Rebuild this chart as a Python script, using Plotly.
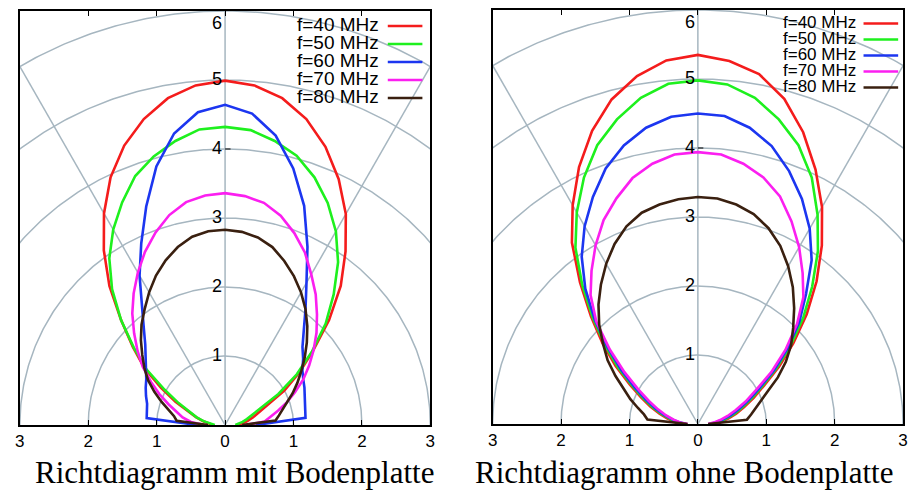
import numpy as np
import plotly.graph_objects as go

# Angle of each sample, measured from the positive x axis (degrees)
theta_deg = list(range(0, 181, 5))

freq_labels = ["f=40 MHz", "f=50 MHz", "f=60 MHz", "f=70 MHz", "f=80 MHz"]
line_colors = ["#f41c1c", "#1ef01e", "#1c36f0", "#fb1ff0", "#3a2010"]

# Richtdiagramm mit Bodenplatte (radius per angle)
r_mit_40 = [0.20, 0.26, 0.33, 0.42, 0.52, 0.68, 1.00, 1.33, 1.68, 2.15, 2.63, 3.07, 3.53,
            3.93, 4.29, 4.59, 4.81, 4.94, 4.99, 4.94, 4.81, 4.59, 4.31, 3.96, 3.54, 3.09,
            2.63, 2.15, 1.76, 1.44, 1.08, 0.80, 0.58, 0.44, 0.33, 0.25, 0.18]
r_mit_50 = [0.15, 0.20, 0.26, 0.33, 0.42, 0.57, 0.90, 1.28, 1.66, 2.08, 2.47, 2.88, 3.24,
            3.55, 3.82, 4.04, 4.18, 4.29, 4.32, 4.30, 4.18, 4.03, 3.84, 3.56, 3.27, 2.95,
            2.57, 2.15, 1.74, 1.40, 1.02, 0.75, 0.56, 0.43, 0.32, 0.22, 0.15]
r_mit_60 = [0.45, 1.18, 1.19, 1.21, 1.24, 1.28, 1.32, 1.38, 1.49, 1.60, 1.79, 2.05, 2.38,
            2.85, 3.38, 3.85, 4.26, 4.53, 4.64, 4.55, 4.29, 3.88, 3.37, 2.90, 2.50, 2.13,
            1.85, 1.65, 1.51, 1.41, 1.33, 1.28, 1.23, 1.18, 1.16, 1.15, 0.41]
r_mit_70 = [0.30, 0.58, 0.67, 0.80, 0.96, 1.13, 1.32, 1.50, 1.69, 1.89, 2.09, 2.31, 2.52,
            2.76, 2.96, 3.14, 3.27, 3.33, 3.36, 3.34, 3.28, 3.15, 2.97, 2.77, 2.55, 2.33,
            2.11, 1.88, 1.67, 1.47, 1.25, 1.06, 0.88, 0.74, 0.63, 0.50, 0.30]
r_mit_80 = [0.25, 0.74, 0.80, 0.87, 0.97, 1.09, 1.22, 1.36, 1.52, 1.69, 1.87, 2.05, 2.22,
            2.38, 2.53, 2.67, 2.76, 2.81, 2.83, 2.82, 2.77, 2.67, 2.54, 2.39, 2.22, 2.05,
            1.90, 1.74, 1.58, 1.44, 1.30, 1.14, 0.99, 0.86, 0.76, 0.71, 0.25]

# Richtdiagramm ohne Bodenplatte (radius per angle)
r_ohne_40 = [0.20, 0.33, 0.45, 0.58, 0.72, 0.90, 1.12, 1.45, 1.82, 2.25, 2.70, 3.16, 3.63,
             4.07, 4.50, 4.88, 5.15, 5.28, 5.35, 5.29, 5.12, 4.87, 4.52, 4.11, 3.66, 3.21,
             2.68, 2.21, 1.82, 1.47, 1.15, 0.92, 0.74, 0.58, 0.45, 0.33, 0.20]
r_ohne_50 = [0.18, 0.29, 0.41, 0.54, 0.68, 0.86, 1.08, 1.40, 1.77, 2.18, 2.60, 3.06, 3.50,
             3.94, 4.30, 4.57, 4.80, 4.94, 4.98, 4.95, 4.80, 4.57, 4.30, 3.94, 3.54, 3.12,
             2.63, 2.17, 1.77, 1.42, 1.11, 0.88, 0.70, 0.54, 0.41, 0.30, 0.18]
r_ohne_60 = [0.17, 0.26, 0.37, 0.50, 0.64, 0.82, 1.04, 1.36, 1.72, 2.10, 2.46, 2.90, 3.27,
             3.60, 3.90, 4.17, 4.36, 4.48, 4.50, 4.47, 4.36, 4.18, 3.94, 3.63, 3.31, 2.96,
             2.56, 2.13, 1.72, 1.37, 1.07, 0.84, 0.66, 0.51, 0.38, 0.27, 0.17]
r_ohne_70 = [0.15, 0.23, 0.33, 0.45, 0.59, 0.77, 0.98, 1.31, 1.67, 2.05, 2.40, 2.67, 2.96,
             3.24, 3.51, 3.70, 3.83, 3.92, 3.94, 3.92, 3.83, 3.69, 3.48, 3.26, 2.99, 2.71,
             2.44, 2.10, 1.68, 1.31, 1.01, 0.79, 0.62, 0.48, 0.36, 0.26, 0.15]
r_ohne_80 = [0.15, 0.72, 0.79, 0.87, 0.97, 1.13, 1.35, 1.57, 1.78, 1.97, 2.19, 2.42, 2.64,
             2.85, 3.02, 3.15, 3.23, 3.28, 3.29, 3.27, 3.23, 3.17, 3.05, 2.88, 2.68, 2.47,
             2.26, 2.04, 1.81, 1.61, 1.39, 1.20, 1.05, 0.91, 0.80, 0.74, 0.15]

panel_titles = ["Richtdiagramm mit Bodenplatte", "Richtdiagramm ohne Bodenplatte"]
x_ticks = [-3, -2, -1, 0, 1, 2, 3]
x_tick_text = ["3", "2", "1", "0", "1", "2", "3"]
ring_radii = [1, 2, 3, 4, 5, 6]
spoke_angles = [60, 90, 120]

panels = [
    [r_mit_40, r_mit_50, r_mit_60, r_mit_70, r_mit_80],
    [r_ohne_40, r_ohne_50, r_ohne_60, r_ohne_70, r_ohne_80],
]

W, H = 917, 490
GRID = "#a6b6c0"
# pixel boxes of the two plot frames: (left, right, top, bottom)
frames = [(15, 430, 11, 425), (493, 908, 10, 424)]
# legend geometry per panel: text right edge, sample start/end, first row y, row step, font
legend_geo = [(380, 387, 422, 25, 18, 19), (862, 868, 903, 22.5, 16, 17)]
title_cx = [232, 686]


def px(v):
    return v / W


def py(v):
    return 1 - v / H


fig = go.Figure()
t_fine = np.radians(np.linspace(0, 180, 361))
th = np.radians(np.array(theta_deg))

for i, series in enumerate(panels):
    xa = "x" if i == 0 else "x2"
    ya = "y" if i == 0 else "y2"
    # polar grid: rings and spokes
    for r in ring_radii:
        fig.add_trace(go.Scatter(x=r * np.cos(t_fine), y=r * np.sin(t_fine), mode="lines",
                                 line=dict(color=GRID, width=1.5), xaxis=xa, yaxis=ya,
                                 hoverinfo="skip", showlegend=False))
    for a in spoke_angles:
        ar = np.radians(a)
        fig.add_trace(go.Scatter(x=[0, 8 * np.cos(ar)], y=[0, 8 * np.sin(ar)], mode="lines",
                                 line=dict(color=GRID, width=1.5), xaxis=xa, yaxis=ya,
                                 hoverinfo="skip", showlegend=False))
    # radiation patterns
    for r_vals, lab, col in zip(series, freq_labels, line_colors):
        r_arr = np.array(r_vals)
        fig.add_trace(go.Scatter(x=r_arr * np.cos(th), y=r_arr * np.sin(th), mode="lines",
                                 line=dict(color=col, width=2.6), name=lab,
                                 xaxis=xa, yaxis=ya, showlegend=False))
    # ring labels along the vertical axis
    for r in ring_radii:
        top = r == ring_radii[-1]
        fig.add_annotation(x=0, y=r, xref=xa, yref=ya, text=str(r), showarrow=False,
                           xanchor="right", yanchor="top" if top else "middle",
                           xshift=-1, yshift=0 if top else 1,
                           font=dict(family="Liberation Sans, Arial", size=18, color="black"))
    fig.add_shape(type="line", x0=0, x1=0.08, y0=4, y1=4, xref=xa, yref=ya,
                  line=dict(color="black", width=1.2))
    # legend: text on the left, line sample on the right
    tx, lx0, lx1, y0, dy, fs = legend_geo[i]
    for k, (lab, col) in enumerate(zip(freq_labels, line_colors)):
        yy = y0 + k * dy
        fig.add_annotation(x=px(tx), y=py(yy), xref="paper", yref="paper", text=lab,
                           showarrow=False, xanchor="right", yanchor="middle",
                           font=dict(family="Liberation Sans, Arial", size=fs, color="black"))
        fig.add_shape(type="line", x0=px(lx0), x1=px(lx1), y0=py(yy + 1), y1=py(yy + 1),
                      xref="paper", yref="paper", line=dict(color=col, width=2.6))
    # panel caption
    fig.add_annotation(x=px(title_cx[i]), y=py(472), xref="paper", yref="paper",
                       text=panel_titles[i], showarrow=False, xanchor="center",
                       yanchor="middle",
                       font=dict(family="Liberation Serif, Times New Roman", size=31,
                                 color="black"))

axis_common = dict(showgrid=False, zeroline=False, showline=True, linecolor="black",
                   linewidth=1.6)
layout_axes = {}
for i, (l, r, t, b) in enumerate(frames):
    sx = "" if i == 0 else "2"
    layout_axes["xaxis" + sx] = dict(
        domain=[px(l), px(r)], range=[-3, 3], tickvals=x_ticks, ticktext=x_tick_text,
        ticks="inside", ticklen=5, tickcolor="black", mirror="ticks",
        anchor="y" + sx, fixedrange=True,
        tickfont=dict(family="Liberation Sans, Arial", size=17, color="black"),
        **axis_common)
    layout_axes["yaxis" + sx] = dict(
        domain=[py(b), py(t)], range=[0, 6], showticklabels=False, ticks="", mirror=True,
        anchor="x" + sx, fixedrange=True, **axis_common)

fig.update_layout(width=W, height=H, margin=dict(l=0, r=0, t=0, b=0),
                  paper_bgcolor="white", plot_bgcolor="white", showlegend=False,
                  **layout_axes)

fig.write_html("out.html")
